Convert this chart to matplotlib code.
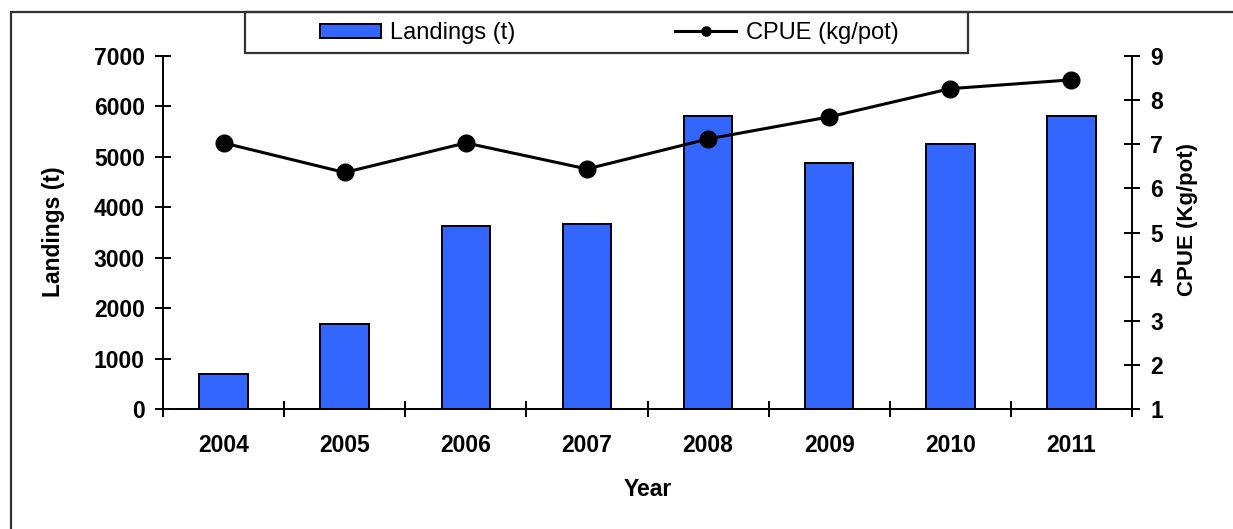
import matplotlib
matplotlib.use("Agg")
import matplotlib.pyplot as plt
from matplotlib.patches import Rectangle
import numpy as np

years = ["2004", "2005", "2006", "2007", "2008", "2009", "2010", "2011"]
landings = [700, 1680, 3620, 3670, 5810, 4870, 5260, 5810]
cpue = [7.03, 6.36, 7.03, 6.44, 7.12, 7.62, 8.26, 8.46]

plt.rcParams["font.family"] = ["Liberation Sans", "DejaVu Sans"]

W, H = 1233, 529
fig = plt.figure(figsize=(W / 100, H / 100), dpi=100)
ax = fig.add_axes([163 / W, 1 - 409 / H, (1132 - 163) / W, (409 - 56) / H])
ax2 = ax.twinx()

x = np.arange(len(years))
bars = ax.bar(x, landings, width=0.4, color="#3366FF", edgecolor="black",
              linewidth=1.4, label="Landings (t)", zorder=2)
line, = ax2.plot(x, cpue, color="black", lw=2.2, marker="o", markersize=12,
                 label="CPUE (kg/pot)", zorder=3)

ax.set_xlim(-0.5, len(years) - 0.5)
ax.set_ylim(0, 7000)
ax.set_yticks(range(0, 7001, 1000))
ax2.set_ylim(1, 9)
ax2.set_yticks(range(1, 10))

# ticks at category boundaries, labels at centers
ax.set_xticks(np.arange(-0.5, len(years), 1.0))
ax.set_xticklabels([])
ax.set_xticks(x, minor=True)
ax.set_xticklabels(years, minor=True)
ax.tick_params(axis="x", which="major", direction="inout", length=12, width=1.4)
ax.tick_params(axis="x", which="minor", length=0, pad=18, labelsize=16.5)
for lab in ax.get_xticklabels(minor=True):
    lab.set_fontweight("bold")

ax.tick_params(axis="y", direction="inout", length=12, width=1.4, pad=7, labelsize=16.5)
ax2.tick_params(axis="y", direction="inout", length=12, width=1.4, pad=7, labelsize=16.5)
for lab in ax.get_yticklabels() + ax2.get_yticklabels():
    lab.set_fontweight("bold")

for a in (ax, ax2):
    a.spines["top"].set_visible(False)
    for s in ("left", "right", "bottom"):
        a.spines[s].set_linewidth(1.4)
ax.spines["right"].set_visible(False)
ax2.spines["left"].set_visible(False)
ax2.spines["bottom"].set_visible(False)

ax.set_ylabel("Landings (t)", fontsize=16.5, fontweight="bold")
ax.yaxis.set_label_coords((54 - 163) / 969, (409 - 232) / 353)
ax.yaxis.label.set_va("center")
ax2.set_ylabel("CPUE (Kg/pot)", fontsize=16, fontweight="bold")
ax2.yaxis.set_label_coords((1188 - 163) / 969, (409 - 220) / 353)
ax2.yaxis.label.set_va("center")
ax.set_xlabel("Year", fontsize=16.5, fontweight="bold")
ax.xaxis.set_label_coords(0.5, (409 - 489) / 353)
ax.xaxis.label.set_va("center")

# outer frame and legend box
fig.patches.append(Rectangle((11 / W, -0.1), 1.2, 1 - 12 / H + 0.1,
                             transform=fig.transFigure, fill=False,
                             edgecolor="#333333", linewidth=1.6))
fig.patches.append(Rectangle((245 / W, 1 - 53 / H), (968 - 245) / W, 41 / H,
                             transform=fig.transFigure, fill=False,
                             edgecolor="#333333", linewidth=1.6))
leg = fig.legend([bars, line], ["Landings (t)", "CPUE (kg/pot)"], ncol=2,
                 loc="center", mode="expand",
                 bbox_to_anchor=(303 / W, 1 - 47 / H, (915 - 303) / W, 28 / H),
                 frameon=False, fontsize=17, handlelength=2.6, handleheight=0.55,
                 handletextpad=0.4, markerscale=0.55, borderpad=0.2)

fig.savefig("out.png", dpi=100)
